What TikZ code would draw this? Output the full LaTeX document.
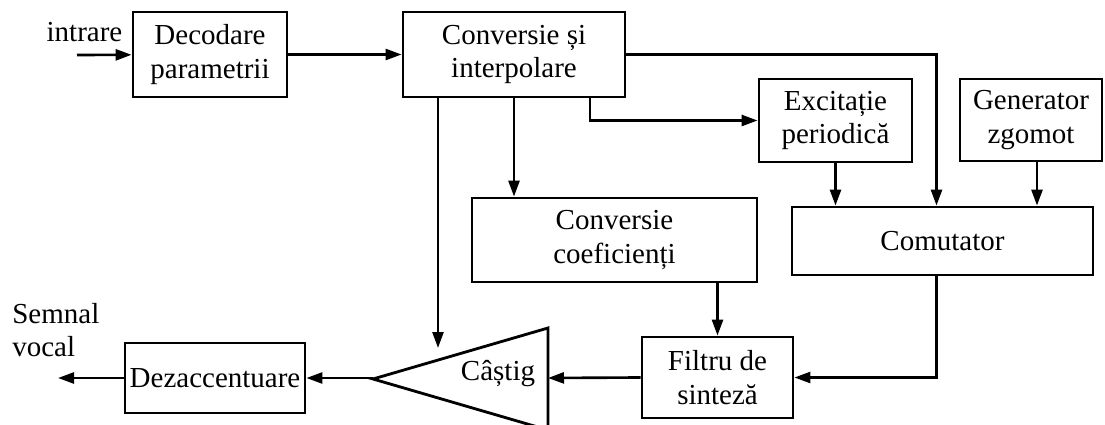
\documentclass[tikz,border=0pt]{standalone}
\usepackage{fontspec}
\setmainfont{Liberation Serif}
\usetikzlibrary{arrows.meta,calc}

\begin{document}
\begin{tikzpicture}[
  x=0.2mm,
  y=-0.2mm,
  font=\fontsize{16.5pt}{19pt}\selectfont,
  block/.style={
    draw,
    line width=1.6pt,
    align=center,
    inner sep=0pt
  },
  flow/.style={
    line width=1.5pt,
    -{Triangle[length=3.2mm,width=2.2mm]}
  },
]
\useasboundingbox (0,0) rectangle (1105,425);
\node[block, minimum width=30.8mm, minimum height=17mm] (dec) at (210,54.5) {Decodare\\parametrii};
\node[block, minimum width=44.4mm, minimum height=17mm] (conv) at (514,54.5) {Conversie și\\interpolare};
\node[block, minimum width=30.6mm, minimum height=16.6mm] (exc) at (835.5,120.5) {Excitație\\periodică};
\node[block, minimum width=28.4mm, minimum height=16.4mm] (gen) at (1031,120) {Generator\\zgomot};
\node[block, minimum width=57mm, minimum height=16.8mm] (coef) at (614.5,240) {Conversie\\coeficienți};
\node[block, minimum width=60.2mm, minimum height=13.6mm] (com) at (942.5,241) {Comutator};
\node[block, minimum width=30.2mm, minimum height=16.2mm] (filt) at (717.5,377.5) {Filtru de\\sinteză};
\node[block, minimum width=36mm, minimum height=14mm] (dez) at (215,378) {Dezaccentuare};
\draw[line width=1.6pt] (548,328) -- (373,379) -- (548,430) -- cycle;
\node[anchor=base, inner sep=0pt] (gain) at (498,380) {Câștig};
\node[anchor=base, inner sep=0pt] (intrare) at (84.5,42) {intrare};
\node[anchor=west, align=left, inner sep=0pt] (semnal) at (12,330) {Semnal\\vocal};

\coordinate (inp) at (77,55);
\coordinate (out) at (58,378);
\coordinate (gtop) at (438,348);
\coordinate (gin) at (548,378);
\coordinate (gtip) at (373,378);

\draw[flow] (inp) -- (dec);
\draw[flow] (dec) -- (conv);
\draw[flow] (conv.east) -| ($(com.north)+(-6,0)$);
\draw[flow] (conv.south -| gtop) -- (gtop);
\draw[flow] (conv.south) -- (conv.south |- coef.north);
\draw[flow] ($(conv.south)+(76,0)$) |- (exc.west);
\draw[flow] (exc.south) -- (exc.south |- com.north);
\draw[flow] ($(gen.south)+(6,0)$) -- ($(gen.south |- com.north)+(6,0)$);
\draw[flow] (filt.north |- coef.south) -- (filt.north);
\draw[flow] ($(com.south)+(-6,0)$) |- (filt.east);
\draw[flow] (filt.west) -- (gin);
\draw[flow] (gtip) -- (dez.east);
\draw[flow] (dez.west) -- (out);
\end{tikzpicture}
\end{document}
